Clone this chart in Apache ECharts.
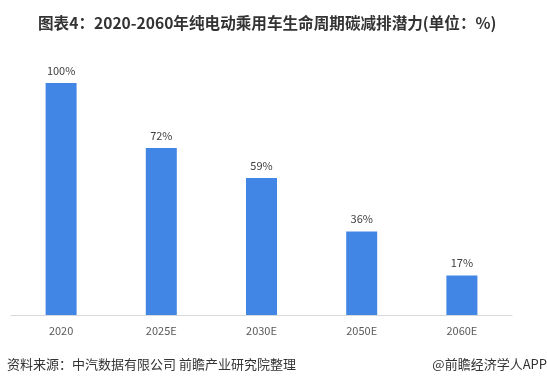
<!DOCTYPE html>
<html><head><meta charset="utf-8">
<script src="https://cdn.jsdelivr.net/npm/echarts@6/dist/echarts.min.js"></script>
<style>html,body{margin:0;padding:0;background:#fff}#c{width:547px;height:386px}</style>
</head><body><div id="c"></div>
<script>
const categories = ['2020','2025E','2030E','2050E','2060E'];
const values = [100, 72, 59, 36, 17];
const chart = echarts.init(document.getElementById('c'));
chart.setOption({
  animation: false,
  title: {
    text: '图表4：2020-2060年纯电动乘用车生命周期碳减排潜力(单位：%)',
    left: 33, top: 10,
    textStyle: {fontSize: 15.6, fontWeight: 'bold', color: '#333', fontFamily: 'Noto Sans CJK SC'}
  },
  graphic: [
    {type:'text', left: 7, top: 358, style:{text:'资料来源：中汽数据有限公司 前瞻产业研究院整理', fontSize: 13, fill:'#333', fontFamily:'Noto Sans CJK SC'}},
    {type:'text', right: 0, top: 358, style:{text:'@前瞻经济学人APP', fontSize: 13, fill:'#333', fontFamily:'Noto Sans CJK SC'}}
  ],
  grid: {left: 11, right: 35, top: 83, bottom: 71},
  xAxis: {
    type: 'category', data: categories,
    axisLine: {lineStyle: {color: '#d9d9d9'}},
    axisTick: {show: false},
    axisLabel: {color: '#595959', fontSize: 11, margin: 10, fontFamily: 'Noto Sans CJK SC'}
  },
  yAxis: {type: 'value', min: 0, max: 100, show: false, splitLine: {show: false}},
  series: [{
    type: 'bar', data: values, barWidth: 31,
    itemStyle: {color: '#4186E4'},
    label: {show: true, position: 'top', formatter: '{c}%', color: '#404040', fontSize: 11, distance: 7, fontFamily: 'Noto Sans CJK SC'}
  }]
});
</script></body></html>
